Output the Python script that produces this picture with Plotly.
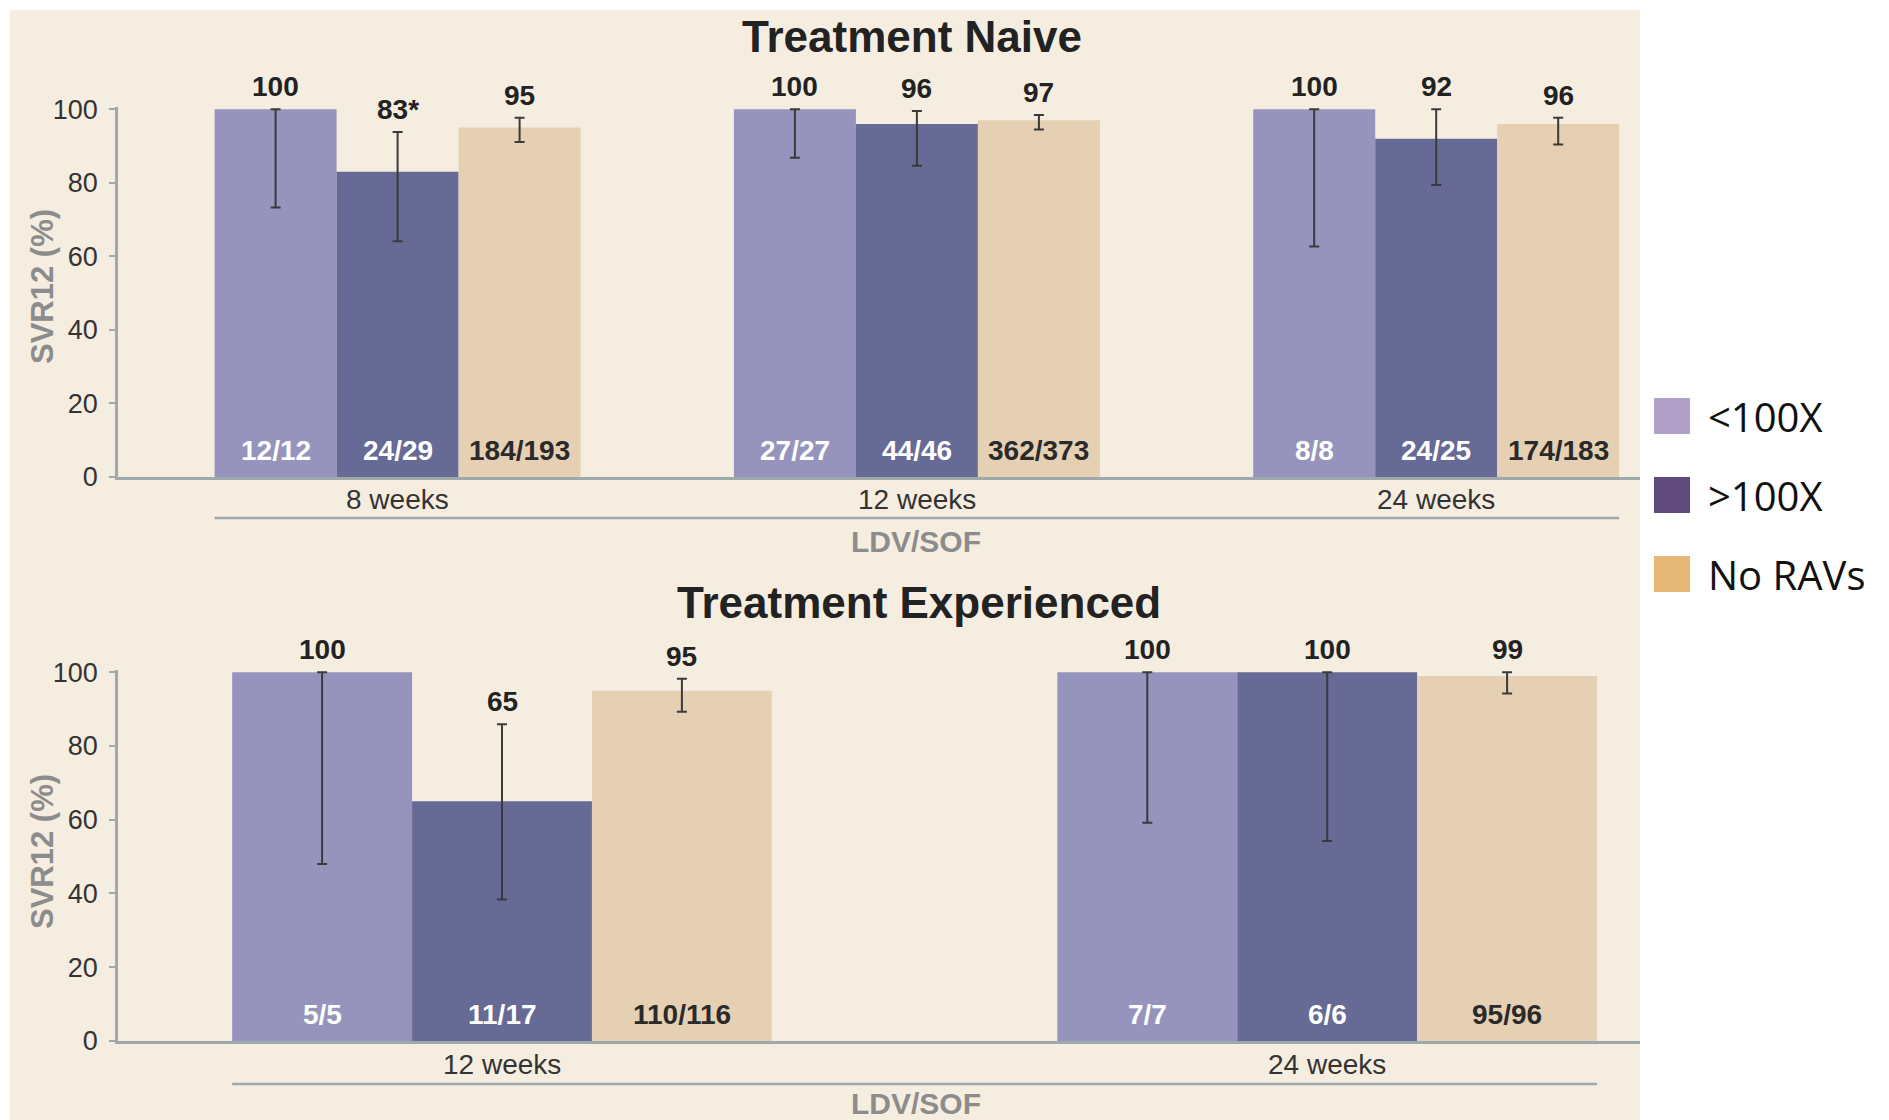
import plotly.graph_objects as go

W, H = 1889, 1120

# ---- data -------------------------------------------------------------
series_names = ["<100X", ">100X", "No RAVs"]

naive_cats = ["8 weeks", "12 weeks", "24 weeks"]
naive_lt100 = [100, 100, 100]
naive_gt100 = [83, 96, 92]
naive_norav = [95, 97, 96]
naive_lt100_lo = [73.3, 86.8, 62.7]
naive_lt100_hi = [100, 100, 100]
naive_gt100_lo = [64.1, 84.6, 79.4]
naive_gt100_hi = [93.8, 99.5, 100]
naive_norav_lo = [91.1, 94.5, 90.4]
naive_norav_hi = [97.7, 98.4, 97.7]
naive_lt100_lbl = ["100", "100", "100"]
naive_gt100_lbl = ["83*", "96", "92"]
naive_norav_lbl = ["95", "97", "96"]
naive_lt100_n = ["12/12", "27/27", "8/8"]
naive_gt100_n = ["24/29", "44/46", "24/25"]
naive_norav_n = ["184/193", "362/373", "174/183"]

exp_cats = ["12 weeks", "24 weeks"]
exp_lt100 = [100, 100]
exp_gt100 = [65, 100]
exp_norav = [95, 99]
exp_lt100_lo = [48.0, 59.2]
exp_lt100_hi = [100, 100]
exp_gt100_lo = [38.4, 54.2]
exp_gt100_hi = [85.9, 100]
exp_norav_lo = [89.3, 94.2]
exp_norav_hi = [98.2, 100]
exp_lt100_lbl = ["100", "100"]
exp_gt100_lbl = ["65", "100"]
exp_norav_lbl = ["95", "99"]
exp_lt100_n = ["5/5", "7/7"]
exp_gt100_n = ["11/17", "6/6"]
exp_norav_n = ["110/116", "95/96"]

yticks = [0, 20, 40, 60, 80, 100]

# ---- styling ----------------------------------------------------------
bar_colors = ["#9694BC", "#676A95", "#E6D0B4"]
legend_colors = ["#B1A0C7", "#604A7B", "#E6B878"]
count_colors = ["#FFFFFF", "#FFFFFF", "#2A2A2A"]
panel_bg = "#F6EDE1"
axis_col = "#9FA8AA"
err_col = "#3A3A3A"
FONT = "Liberation Sans, Arial, Helvetica, sans-serif"
gray_txt = "#8C8C8C"
dark_txt = "#222222"


def px_x(v):
    return v / W


def px_y(v):
    return 1 - v / H


fig = go.Figure()
annotations = []
shapes = []


def add_panel(cats, vals, los, his, lbls, ns, xref, yref, group_w, cat_label_px):
    bw = group_w / 3.0
    for k in range(3):
        v = vals[k]
        off = -1.5 * bw + k * bw
        fig.add_trace(go.Bar(
            x=cats, y=v, width=bw, offset=off,
            marker=dict(color=bar_colors[k], line=dict(width=0)),
            error_y=dict(type="data", symmetric=False,
                         array=[h - y for h, y in zip(his[k], v)],
                         arrayminus=[y - lo for lo, y in zip(los[k], v)],
                         color=err_col, thickness=2, width=5),
            name=series_names[k], showlegend=False,
            xaxis=xref, yaxis=yref, cliponaxis=False,
        ))
        for i in range(len(cats)):
            xc = i + off + bw / 2
            annotations.append(dict(
                x=xc, y=his[k][i], xref=xref, yref=yref, text="<b>%s</b>" % lbls[k][i],
                showarrow=False, yanchor="bottom", yshift=5,
                font=dict(family=FONT, size=28, color=dark_txt)))
            annotations.append(dict(
                x=xc, y=0, xref=xref, yref=yref, text="<b>%s</b>" % ns[k][i],
                showarrow=False, yanchor="bottom", yshift=9,
                font=dict(family=FONT, size=28, color=count_colors[k])))
    # category names under the axis
    for i, c in enumerate(cats):
        annotations.append(dict(
            x=i, y=px_y(cat_label_px), xref=xref, yref="paper", text=c,
            showarrow=False, yanchor="middle",
            font=dict(family=FONT, size=28, color="#333333")))
    return -1.5 * bw, len(cats) - 1 + 1.5 * bw


# panel geometry (pixels)
ax_left = 118
top_c0, top_step = 397.6, 519.3
top_group_w = 366.0 / top_step
bot_c0, bot_step = 502.0, 825.2
bot_group_w = 539.7 / bot_step
right_px = 1640

l0, l1 = add_panel(naive_cats,
                   [naive_lt100, naive_gt100, naive_norav],
                   [naive_lt100_lo, naive_gt100_lo, naive_norav_lo],
                   [naive_lt100_hi, naive_gt100_hi, naive_norav_hi],
                   [naive_lt100_lbl, naive_gt100_lbl, naive_norav_lbl],
                   [naive_lt100_n, naive_gt100_n, naive_norav_n],
                   "x", "y", top_group_w, 499)
shapes.append(dict(type="line", xref="x", yref="paper", x0=l0, x1=l1,
                   y0=px_y(518), y1=px_y(518), line=dict(color=axis_col, width=2.5)))

m0, m1 = add_panel(exp_cats,
                   [exp_lt100, exp_gt100, exp_norav],
                   [exp_lt100_lo, exp_gt100_lo, exp_norav_lo],
                   [exp_lt100_hi, exp_gt100_hi, exp_norav_hi],
                   [exp_lt100_lbl, exp_gt100_lbl, exp_norav_lbl],
                   [exp_lt100_n, exp_gt100_n, exp_norav_n],
                   "x2", "y2", bot_group_w, 1064)
shapes.append(dict(type="line", xref="x2", yref="paper", x0=m0, x1=m1,
                   y0=px_y(1084), y1=px_y(1084), line=dict(color=axis_col, width=2.5)))

# beige panel behind both charts
shapes.insert(0, dict(type="rect", xref="paper", yref="paper", layer="below",
                      x0=px_x(10), x1=px_x(right_px), y0=0, y1=px_y(10),
                      fillcolor=panel_bg, line=dict(width=0)))

# legend swatches
for k, yc in enumerate([416, 495, 574]):
    shapes.append(dict(type="rect", xref="paper", yref="paper",
                       x0=px_x(1654), x1=px_x(1690), y0=px_y(yc + 18), y1=px_y(yc - 18),
                       fillcolor=legend_colors[k], line=dict(width=0)))
    annotations.append(dict(x=px_x(1706), y=px_y(yc), xref="paper", yref="paper",
                            text=series_names[k].replace("<", "&lt;").replace(">", "&gt;"),
                            showarrow=False, xanchor="left", yanchor="middle",
                            font=dict(family="Open Sans, Noto Sans, sans-serif", size=40, color="#111111")))

# titles and axis captions
for txt, xp, yp, size, col in [
    ("Treatment Naive", 912, 36, 44, dark_txt),
    ("Treatment Experienced", 919, 602, 44, dark_txt),
    ("LDV/SOF", 916, 541, 30, gray_txt),
    ("LDV/SOF", 916, 1103, 30, gray_txt),
]:
    annotations.append(dict(x=px_x(xp), y=px_y(yp), xref="paper", yref="paper",
                            text="<b>%s</b>" % txt, showarrow=False,
                            xanchor="center", yanchor="middle",
                            font=dict(family=FONT, size=size, color=col)))
for yp in [287, 852]:
    annotations.append(dict(x=px_x(42), y=px_y(yp), xref="paper", yref="paper",
                            text="<b>SVR12 (%)</b>", showarrow=False, textangle=-90,
                            xanchor="center", yanchor="middle",
                            font=dict(family=FONT, size=31, color=gray_txt)))

xcommon = dict(showgrid=False, zeroline=False, showline=True, linecolor=axis_col,
               linewidth=2.5, ticks="", showticklabels=False, fixedrange=True,
               automargin=False)
ycommon = dict(showgrid=False, zeroline=False, showline=True, linecolor=axis_col,
               linewidth=2.5, ticks="outside", ticklen=6, tickcolor=axis_col,
               tickwidth=2, tickvals=yticks, range=[0, 100.6], fixedrange=True,
               automargin=False, ticklabelstandoff=6,
               tickfont=dict(family=FONT, size=27, color="#333333"))

fig.update_layout(
    width=W, height=H, autosize=False,
    margin=dict(l=0, r=0, t=0, b=0, pad=0, autoexpand=False),
    paper_bgcolor="white", plot_bgcolor="rgba(0,0,0,0)",
    barmode="overlay", showlegend=False,
    xaxis=dict(xcommon, domain=[px_x(ax_left), px_x(right_px)], anchor="y",
               type="category",
               range=[(ax_left - top_c0) / top_step, (right_px - top_c0) / top_step]),
    yaxis=dict(ycommon, domain=[px_y(477), px_y(107)], anchor="x"),
    xaxis2=dict(xcommon, domain=[px_x(ax_left), px_x(right_px)], anchor="y2",
                type="category",
                range=[(ax_left - bot_c0) / bot_step, (right_px - bot_c0) / bot_step]),
    yaxis2=dict(ycommon, domain=[px_y(1041), px_y(670)], anchor="x2"),
    annotations=annotations, shapes=shapes,
)

fig.write_html("out.html")
